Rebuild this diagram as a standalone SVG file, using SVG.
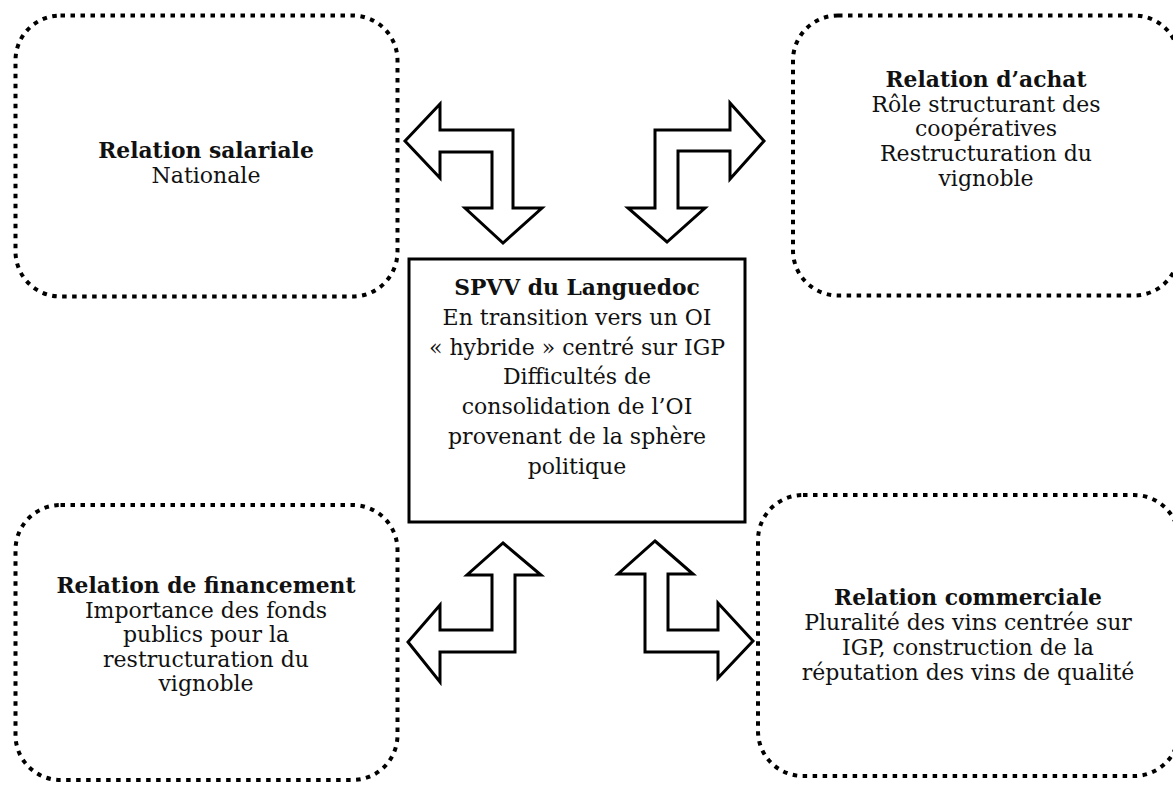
<svg xmlns="http://www.w3.org/2000/svg" width="1173" height="785" viewBox="0 0 1173 785">
<style>
.dot{fill:none;stroke:#000;stroke-width:4;stroke-dasharray:4.5 5.5}
.arr{fill:#fff;stroke:#000;stroke-width:3;stroke-linejoin:miter}
text{font-family:"DejaVu Serif","Liberation Serif",serif;font-size:22px;fill:#111;text-anchor:middle}
.b{font-weight:bold;font-size:21.8px}
</style>
<rect width="1173" height="785" fill="#fff"/>
<g id="connectors">
<polygon class="arr" points="405,141 440,104 440,130 513,130 513,208 542,208 503,243 465,208 492,208 492,152 440,152 440,178"/>
<polygon class="arr" points="764,141 730,103 730,130 655,130 655,208 628,208 667,242 705,208 678,208 678,151 730,151 730,179"/>
<polygon class="arr" points="503,543 541,575 515,575 515,652 440,652 440,682 408,642 440,605 440,630 492,630 492,575 467,575"/>
<polygon class="arr" points="655,541 693,574 668,574 668,630 718,630 718,603 753,641 718,678 718,652 645,652 645,574 618,574"/>
</g>
<g id="salariale">
<rect class="dot" x="15.5" y="15.5" width="382" height="281" rx="45"/>
<text x="206" y="158" class="b">Relation salariale</text>
<text x="206" y="182.5">Nationale</text>
</g>
<g id="achat">
<rect class="dot" x="793" y="15.5" width="386" height="280" rx="45"/>
<text x="986" y="87" class="b">Relation d’achat</text>
<text x="986" y="111.7">Rôle structurant des</text>
<text x="986" y="136.4">coopératives</text>
<text x="986" y="161.1">Restructuration du</text>
<text x="986" y="185.8">vignoble</text>
</g>
<g id="spvv">
<rect x="409" y="259" width="336" height="263" fill="#fff" stroke="#000" stroke-width="3"/>
<text x="577" y="295" class="b">SPVV du Languedoc</text>
<text x="577" y="324.8">En transition vers un OI</text>
<text x="577" y="354.6">« hybride » centré sur IGP</text>
<text x="577" y="384.4">Difficultés de</text>
<text x="577" y="414.2">consolidation de l’OI</text>
<text x="577" y="444">provenant de la sphère</text>
<text x="577" y="473.8">politique</text>
</g>
<g id="financement">
<rect class="dot" x="15.5" y="505" width="382" height="275" rx="45"/>
<text x="206" y="593" class="b">Relation de financement</text>
<text x="206" y="617.5">Importance des fonds</text>
<text x="206" y="642">publics pour la</text>
<text x="206" y="666.5">restructuration du</text>
<text x="206" y="691">vignoble</text>
</g>
<g id="commerciale">
<rect class="dot" x="758" y="495" width="421" height="281" rx="45"/>
<text x="968" y="605" class="b">Relation commerciale</text>
<text x="968" y="630">Pluralité des vins centrée sur</text>
<text x="968" y="655">IGP, construction de la</text>
<text x="968" y="680">réputation des vins de qualité</text>
</g>
</svg>
